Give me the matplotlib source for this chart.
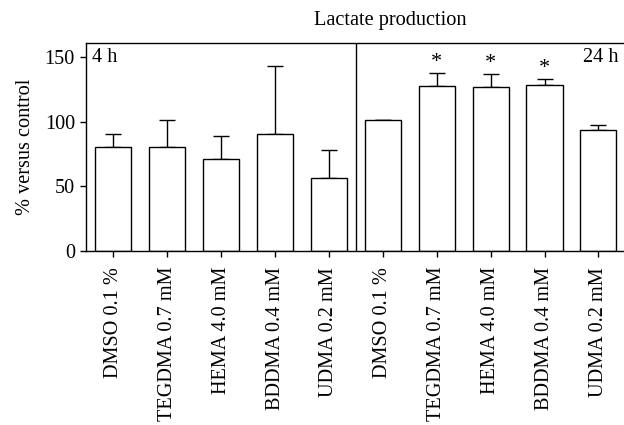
import numpy as np
import matplotlib
matplotlib.use("Agg")
import matplotlib.pyplot as plt

plt.rcParams['font.family'] = ['Liberation Serif', 'DejaVu Serif']

# data
labels = ["DMSO 0.1 %", "TEGDMA 0.7 mM", "HEMA 4.0 mM", "BDDMA 0.4 mM", "UDMA 0.2 mM",
          "DMSO 0.1 %", "TEGDMA 0.7 mM", "HEMA 4.0 mM", "BDDMA 0.4 mM", "UDMA 0.2 mM"]
means = [80.6, 80.6, 71.1, 90.2, 56.6, 101.0, 127.3, 127.0, 128.3, 93.5]
err_top = [90.6, 101.5, 88.6, 143.0, 78.3, 101.6, 137.8, 136.8, 133.0, 97.4]
significant = [False, False, False, False, False, False, True, True, True, False]

means = np.array(means)
sd = np.array(err_top) - means
x = np.arange(len(labels))

fs = 14.6

fig = plt.figure(figsize=(6.24, 4.25), dpi=100)
ax = fig.add_axes([0.1378, 0.4094, 0.8622, 0.4894])

ax.bar(x, means, width=0.67, color="white", edgecolor="black", linewidth=1.0, zorder=2)
ax.errorbar(x, means, yerr=[np.zeros_like(sd), sd], fmt="none", ecolor="black",
            elinewidth=1.0, capsize=6, capthick=1.0, zorder=1)

for xi, top, sig in zip(x, err_top, significant):
    if sig:
        ax.text(xi, top + 0.5, "*", ha="center", va="bottom", fontsize=16)

ax.axvline(4.5, color="black", linewidth=1.0)
ax.text(0.012, 0.975, "4 h", transform=ax.transAxes, ha="left", va="top", fontsize=fs)
ax.text(0.99, 0.975, "24 h", transform=ax.transAxes, ha="right", va="top", fontsize=fs)

ax.set_xlim(-0.507, 9.475)
ax.set_ylim(0, 160.7)
ax.set_yticks([0, 50, 100, 150])
ax.set_xticks(x)
ax.set_xticklabels(labels, rotation=90, fontsize=fs)
ax.tick_params(axis="y", labelsize=fs, length=4, width=1.0, direction="out", pad=4)
ax.tick_params(axis="x", length=4, width=1.0, direction="out", pad=7.5)
ax.set_ylabel("% versus control", fontsize=fs, labelpad=7)
for s in ax.spines.values():
    s.set_linewidth(1.0)
ax.spines["right"].set_visible(False)

fig.text(390 / 624, 1 - 20 / 425, "Lactate production", ha="center", va="center", fontsize=fs)

fig.savefig("out.png", dpi=100)
